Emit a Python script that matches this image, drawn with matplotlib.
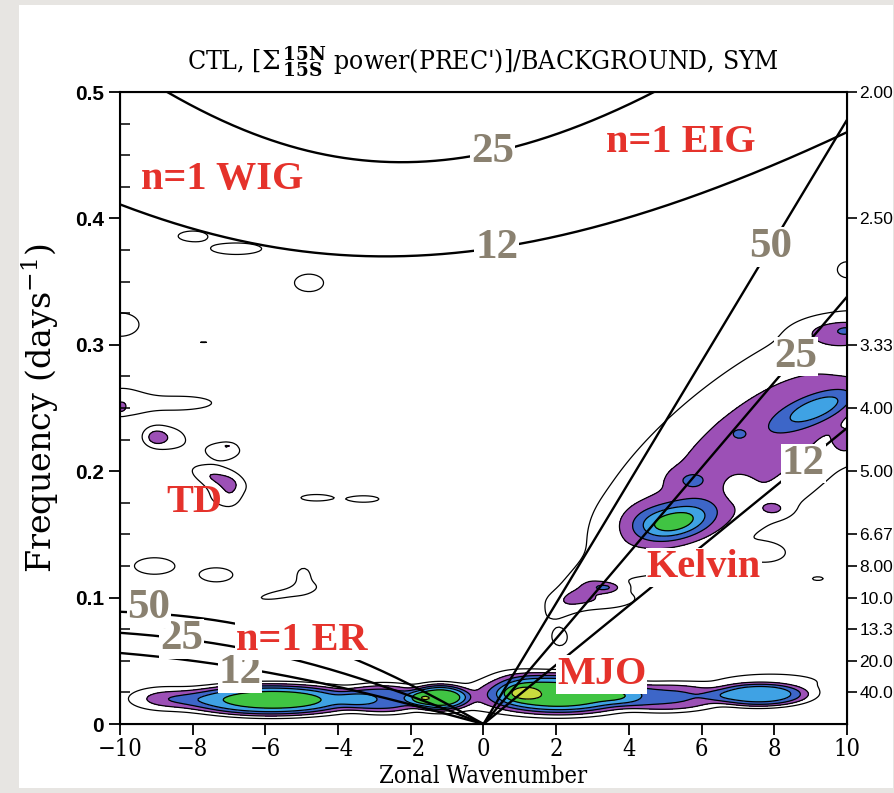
import numpy as np
import matplotlib
matplotlib.use("Agg")
import matplotlib.pyplot as plt
from matplotlib.patches import Rectangle

plt.rcParams["mathtext.fontset"] = "dejavuserif"

# ---- data ----
equiv_depths = [12, 25, 50]
ig_depths = [12, 25]

# power ratio features: wavenumber, frequency, amplitude, sigma_k, sigma_f, tilt, shape power
blob_k = [0.0, -5.9, -8.8, -2.8, -1.2, 2.1, 1.0, 5.0, 7.6, 0.9, 8.0,
          6.5, 8.0, 4.5, 2.6, 5.35, 5.7, 9.2, 10.0, 9.8, 10.0, 7.0, 3.35, 3.1, 2.1, 7.0, 8.0,
          -8.0, -6.8, -4.8, -10.0, -7.7, -8.3, -10.0, -8.6, -9.05, -10.0,
          -7.15, -7.05, -7.3, -8.3, -7.4, -6.95, -4.6, -3.3,
          -9.05, -7.35, -5.5, -4.95, 7.8, 9.2, 10.0]
blob_f = [0.020, 0.019, 0.020, 0.020, 0.021, 0.024, 0.025, 0.021, 0.023, 0.038, 0.035,
          0.210, 0.227, 0.160, 0.105, 0.160, 0.193, 0.250, 0.222, 0.310, 0.312, 0.187, 0.108, 0.098, 0.068, 0.230, 0.170,
          0.386, 0.376, 0.349, 0.316, 0.302, 0.254, 0.255, 0.226, 0.227, 0.250,
          0.217, 0.220, 0.186, 0.183, 0.196, 0.184, 0.179, 0.178,
          0.125, 0.118, 0.103, 0.117, 0.135, 0.115, 0.360]
blob_amp = [0.12, 0.47, 0.20, 0.26, 0.45, 0.46, 0.12, 0.22, 0.38, 0.08, 0.10,
            0.12, 0.15, 0.10, 0.11, 0.36, 0.10, 0.27, 0.10, 0.15, 0.06, -0.10, 0.20, 0.10, 0.12, 0.07, 0.10,
            0.18, 0.18, 0.18, 0.14, 0.105, 0.13, 0.13, 0.14, 0.18, 0.12,
            0.13, 0.09, 0.13, -0.10, 0.11, 0.08, 0.18, 0.18,
            0.18, 0.18, 0.13, 0.13, 0.13, 0.12, 0.12]
blob_sk = [9.0, 2.3, 0.9, 1.1, 0.8, 2.0, 0.45, 1.5, 1.3, 0.8, 2.5,
           5.0, 4.0, 0.8, 1.0, 1.0, 0.5, 1.0, 0.4, 1.0, 0.3, 0.45, 0.4, 1.0, 0.25, 0.3, 0.4,
           0.52, 0.91, 0.52, 0.9, 0.4, 1.6, 0.8, 0.6, 0.35, 0.15,
           0.75, 0.15, 0.9, 0.6, 0.75, 0.3, 0.55, 0.55,
           0.72, 0.59, 1.2, 0.35, 0.6, 0.3, 0.35]
blob_sf = [0.016, 0.0125, 0.009, 0.011, 0.010, 0.016, 0.006, 0.011, 0.009, 0.008, 0.012,
           0.075, 0.070, 0.015, 0.015, 0.014, 0.008, 0.011, 0.012, 0.010, 0.004, 0.012, 0.004, 0.007, 0.008, 0.006, 0.006,
           0.0052, 0.0059, 0.009, 0.016, 0.002, 0.010, 0.017, 0.012, 0.008, 0.004,
           0.010, 0.002, 0.020, 0.008, 0.007, 0.012, 0.0033, 0.0033,
           0.0085, 0.0072, 0.006, 0.012, 0.008, 0.003, 0.008]
blob_tilt = [0, 0, 0, 0, 0, 0, 0, 0, 0, 0, 0,
             0.018, 0.017, 0, 0.02, 0.005, 0, 0.01, 0, 0, 0, 0, 0, 0, 0, 0, 0,
             0, 0, 0, 0, 0, 0, 0, 0, 0, 0,
             0, 0, 0, 0, -0.008, 0, 0, 0,
             0, 0, 0.005, 0, 0, 0, 0]
blob_pow = [1, 2, 1, 2, 2, 2, 1, 2, 2, 1, 1,
            1, 1, 1, 1, 1, 1, 1, 1, 1, 1, 1, 1, 1, 1, 1, 1,
            1, 1, 1, 1, 1, 1, 1, 1, 1, 1,
            1, 1, 1, 1, 1, 1, 1, 1,
            1, 1, 1, 1, 1, 1, 1]

fill_levels = [1.2, 1.3, 1.4, 1.5, 1.6, 5.0]
fill_colors = ["#9c50b6", "#3d66c8", "#3fa2e4", "#40c443", "#c9db3e"]
line_levels = [1.1, 1.2, 1.3, 1.4, 1.5, 1.6]

period_ticks = [0.5, 0.4, 0.3, 0.25, 0.2, 0.15, 0.125, 0.1, 0.075, 0.05, 0.025]
period_labels = ["2.00", "2.50", "3.33", "4.00", "5.00", "6.67", "8.00",
                 "10.0", "13.3", "20.0", "40.0"]

# ---- field ----
kk = np.linspace(-10, 10, 241)
ff = np.linspace(0, 0.5, 501)
K, F = np.meshgrid(kk, ff)
Z = np.ones_like(K)
for k0, f0, a0, sk, sf, t, p in zip(blob_k, blob_f, blob_amp, blob_sk, blob_sf,
                                    blob_tilt, blob_pow):
    dk = K - k0
    df = F - f0 - t * dk
    Z += a0 * np.exp(-((dk / sk) ** 2 + (df / sf) ** 2) ** p)

# ---- dispersion curves ----
g = 9.81
re = 6.371e6
beta = 2 * 7.292e-5 / re
to_cpd = 86400 / (2 * np.pi)


def ig_curve(kw, h):
    c = np.sqrt(g * h)
    out = []
    for s in kw:
        k = s / re
        r = np.roots([1, 0, -(c * c * k * k + 3 * beta * c), -beta * k * c * c])
        out.append(r.real.max() * to_cpd)
    return np.array(out)


def er_curve(kw, h):
    c = np.sqrt(g * h)
    k = kw / re
    return -beta * k / (k * k + 3 * beta / c) * to_cpd


def kelvin_curve(kw, h):
    return np.sqrt(g * h) * kw / re * to_cpd


fig = plt.figure(figsize=(8.95, 7.93), dpi=100)
fig.patch.set_facecolor("#e7e5e2")
fig.patches.append(Rectangle((19 / 895, 5 / 793), 874 / 895, 783 / 793,
                             transform=fig.transFigure, facecolor="white",
                             edgecolor="none", zorder=-10))
ax = fig.add_axes([120 / 895, 69 / 793, 727 / 895, 632 / 793])

ax.contourf(K, F, Z, levels=fill_levels, colors=fill_colors)
ax.contour(K, F, Z, levels=line_levels, colors="black", linewidths=0.9)

kneg = np.linspace(-10, 0, 200)
kpos = np.linspace(0, 10, 200)
kall = np.linspace(-10, 10, 400)
for h in equiv_depths:
    ax.plot(kneg, er_curve(kneg, h), color="black", lw=1.7)
    ax.plot(kpos, kelvin_curve(kpos, h), color="black", lw=1.7)
for h in ig_depths:
    ax.plot(kall, ig_curve(kall, h), color="black", lw=1.7)

lab = dict(color="#8a8170", fontsize=31, family="Liberation Serif",
           fontweight="bold", ha="center", va="center",
           bbox=dict(facecolor="white", edgecolor="none", pad=0.5))
for h, kx in zip(ig_depths, [0.36, 0.25]):
    ax.text(kx, ig_curve([kx], h)[0], str(h), **lab)
for h, kx in zip(equiv_depths, [8.8, 8.6, 7.9]):
    ax.text(kx, kelvin_curve(kx, h), str(h), **lab)
for h, kx, dy in zip(equiv_depths, [-6.7, -8.3, -9.2], [-0.004, 0.0, 0.004]):
    ax.text(kx, er_curve(np.array(kx), h) + dy, str(h), **lab)

red = dict(color="#e5322b", fontsize=29, family="Liberation Serif",
           fontweight="bold", ha="center", va="center")
box = dict(facecolor="white", edgecolor="none", pad=0.5)
ax.text(-7.2, 0.431, "n=1 WIG", **red)
ax.text(5.43, 0.46, "n=1 EIG", **red)
ax.text(-7.95, 0.175, "TD", **red)
ax.text(6.06, 0.124, "Kelvin", bbox=box, **red)
ax.text(-5.0, 0.066, "n=1 ER", bbox=box, **red)
ax.text(3.25, 0.039, "MJO", bbox=box, **red)

ax.set_xlim(-10, 10)
ax.set_ylim(0, 0.5)
ax.set_xticks(np.arange(-10, 11, 2))
ax.set_xticklabels([str(v).replace("-", "\u2212") for v in range(-10, 11, 2)],
                   family="DejaVu Serif", fontstretch="condensed", fontsize=17)
ax.set_yticks([0, 0.1, 0.2, 0.3, 0.4, 0.5])
ax.set_yticklabels(["0", "0.1", "0.2", "0.3", "0.4", "0.5"],
                   family="Liberation Sans", fontweight="bold", fontsize=15)
ax.set_yticks(np.arange(0, 0.5, 0.025), minor=True)
ax.tick_params(axis="both", which="major", direction="out", length=8, width=1.3)
ax.tick_params(axis="x", which="major", pad=2)
ax.tick_params(axis="y", which="minor", direction="in", length=7, width=1.1,
               left=True, right=True)
ax.tick_params(axis="x", which="major", top=False)
for s in ax.spines.values():
    s.set_linewidth(1.5)

ax.set_xlabel("Zonal Wavenumber", family="DejaVu Serif", fontstretch="condensed",
              fontsize=17, labelpad=3)
ax.set_ylabel("Frequency (days$^{-1}$)", family="DejaVu Serif", fontsize=24,
              labelpad=10)

ax2 = ax.twinx()
ax2.set_ylim(0, 0.5)
ax2.set_yticks(period_ticks)
ax2.set_yticklabels(period_labels, family="Liberation Sans", fontsize=12.5)
ax2.tick_params(axis="y", direction="out", length=7, width=1.2, pad=2)

fig.text(483 / 895, 1 - 62 / 793,
         "CTL, [$\\Sigma_{\\,\\mathbf{15S}}^{\\,\\mathbf{15N}}$ power(PREC')]/BACKGROUND, SYM",
         family="DejaVu Serif", fontstretch="condensed", fontsize=19,
         ha="center", va="center")

fig.savefig("out.png", dpi=100, facecolor=fig.get_facecolor())
